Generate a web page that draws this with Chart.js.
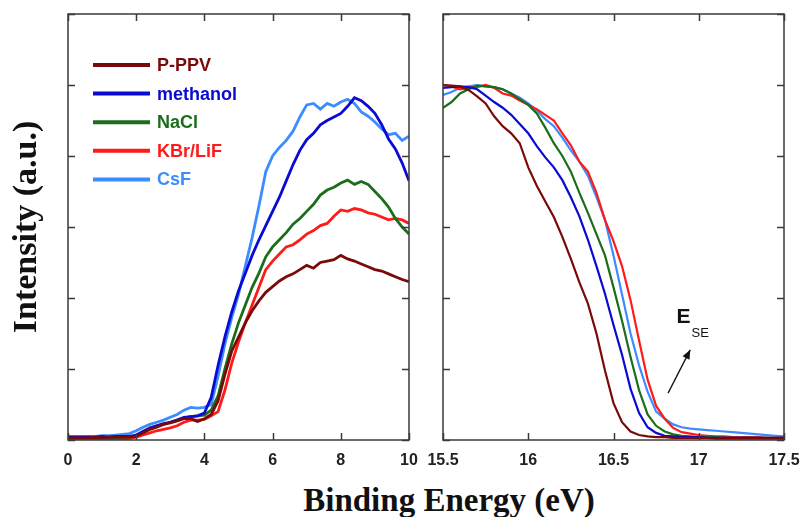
<!DOCTYPE html>
<html>
<head>
<meta charset="utf-8">
<script src="https://cdn.jsdelivr.net/npm/chart.js@4.4.1/dist/chart.umd.min.js"></script>
<style>
  body { margin: 0; background: #fff; width: 805px; height: 517px; position: relative; overflow: hidden; }
  #esquerdo { position: absolute; left: 0; top: 0; }
  #direito { position: absolute; left: 420px; top: 0; }
  #tituloX { position: absolute; left: 249px; width: 400px; top: 482px; text-align: center; line-height: 33px;
    font: bold 33px "Liberation Serif", "Times New Roman", serif; color: #111; white-space: nowrap; }
</style>
</head>
<body>
<canvas id="esquerdo" width="420" height="470"></canvas>
<canvas id="direito" width="385" height="470"></canvas>
<div id="tituloX">Binding Energy (eV)</div>
<script>
// Dados
const nomes = ['P-PPV', 'methanol', 'NaCl', 'KBr/LiF', 'CsF'];
const cores = ['#7a0a0a', '#0a0ad2', '#1a6e1a', '#ff1a1a', '#3a8cff'];

// painel esquerdo: 0 - 10 eV
const energiaEsq = [0, 0.2, 0.4, 0.6, 0.8, 1, 1.2, 1.4, 1.6, 1.8, 2, 2.2, 2.4, 2.6, 2.8, 3, 3.2, 3.4, 3.6, 3.8,
  4, 4.2, 4.4, 4.6, 4.8, 5, 5.2, 5.4, 5.6, 5.8, 6, 6.2, 6.4, 6.6, 6.8, 7, 7.2, 7.4, 7.6, 7.8,
  8, 8.2, 8.4, 8.6, 8.8, 9, 9.2, 9.4, 9.6, 9.8, 10];
const ppvEsq = [0.03, 0.03, 0.03, 0.03, 0.04, 0.03, 0.04, 0.04, 0.04, 0.04, 0.05, 0.1, 0.15, 0.18, 0.22, 0.24, 0.27, 0.3, 0.3, 0.26,
  0.3, 0.36, 0.55, 0.92, 1.25, 1.45, 1.65, 1.82, 1.96, 2.08, 2.16, 2.24, 2.3, 2.34, 2.4, 2.46, 2.42, 2.5, 2.52, 2.54,
  2.6, 2.55, 2.52, 2.48, 2.44, 2.4, 2.38, 2.34, 2.3, 2.26, 2.23];
const metanolEsq = [0.04, 0.04, 0.04, 0.04, 0.04, 0.05, 0.04, 0.05, 0.05, 0.05, 0.07, 0.12, 0.17, 0.2, 0.23, 0.25, 0.28, 0.32, 0.33, 0.34,
  0.38, 0.6, 1.05, 1.45, 1.8, 2.1, 2.35, 2.6, 2.82, 3.02, 3.22, 3.42, 3.65, 3.88, 4.08, 4.23, 4.32, 4.44, 4.5, 4.55,
  4.6, 4.7, 4.82, 4.78, 4.7, 4.6, 4.44, 4.24, 4.1, 3.9, 3.65];
const naclEsq = [0.03, 0.03, 0.03, 0.04, 0.03, 0.03, 0.04, 0.03, 0.04, 0.04, 0.06, 0.12, 0.17, 0.2, 0.22, 0.25, 0.28, 0.31, 0.33, 0.34,
  0.35, 0.42, 0.62, 1.0, 1.35, 1.65, 1.9, 2.15, 2.35, 2.58, 2.72, 2.82, 2.92, 3.04, 3.12, 3.22, 3.32, 3.45, 3.52, 3.56,
  3.62, 3.66, 3.6, 3.64, 3.6, 3.5, 3.4, 3.28, 3.12, 3.0, 2.9];
const kbrEsq = [0.02, 0.02, 0.02, 0.02, 0.02, 0.02, 0.02, 0.02, 0.02, 0.02, 0.04, 0.07, 0.1, 0.13, 0.15, 0.17, 0.2, 0.25, 0.28, 0.28,
  0.29, 0.34, 0.4, 0.7, 1.08, 1.38, 1.65, 1.9, 2.15, 2.4, 2.52, 2.62, 2.72, 2.75, 2.82, 2.9, 2.95, 3.02, 3.05, 3.15,
  3.24, 3.22, 3.26, 3.24, 3.2, 3.18, 3.14, 3.1, 3.12, 3.1, 3.05];
const csfEsq = [0.05, 0.05, 0.05, 0.05, 0.05, 0.06, 0.06, 0.07, 0.08, 0.09, 0.13, 0.18, 0.22, 0.25, 0.28, 0.32, 0.36, 0.42, 0.46, 0.45,
  0.46, 0.5, 0.9, 1.35, 1.72, 2.05, 2.45, 2.85, 3.3, 3.78, 4.0, 4.12, 4.22, 4.35, 4.55, 4.72, 4.74, 4.66, 4.74, 4.7,
  4.76, 4.8, 4.74, 4.62, 4.56, 4.48, 4.38, 4.3, 4.32, 4.22, 4.28];

// painel direito: 15.5 - 17.5 eV
const energiaDir = [15.5, 15.55, 15.6, 15.65, 15.7, 15.75, 15.8, 15.85, 15.9, 15.95,
  16, 16.05, 16.1, 16.15, 16.2, 16.25, 16.3, 16.35, 16.4, 16.45,
  16.5, 16.55, 16.6, 16.65, 16.7, 16.75, 16.8, 16.85, 16.9, 16.95,
  17, 17.05, 17.1, 17.15, 17.2, 17.25, 17.3, 17.35, 17.4, 17.45, 17.5];
const ppvDir = [5.0, 4.99, 4.98, 4.93, 4.84, 4.74, 4.56, 4.42, 4.32, 4.18,
  3.84, 3.58, 3.36, 3.14, 2.86, 2.55, 2.22, 1.92, 1.5, 0.98,
  0.52, 0.25, 0.12, 0.07, 0.05, 0.04, 0.04, 0.03, 0.03, 0.03,
  0.03, 0.03, 0.02, 0.02, 0.02, 0.02, 0.02, 0.02, 0.02, 0.02, 0.02];
const metanolDir = [4.96, 4.97, 4.98, 4.97, 4.94, 4.85, 4.76, 4.68, 4.58, 4.45,
  4.32, 4.14, 3.98, 3.84, 3.66, 3.42, 3.15, 2.82, 2.45, 2.06,
  1.62, 1.2, 0.72, 0.38, 0.18, 0.1, 0.06, 0.05, 0.04, 0.04,
  0.04, 0.03, 0.03, 0.03, 0.03, 0.03, 0.03, 0.03, 0.03, 0.03, 0.03];
const naclDir = [4.68, 4.76, 4.88, 4.94, 4.99, 4.98, 4.97, 4.94, 4.88, 4.8,
  4.72, 4.6, 4.4, 4.18, 4.0, 3.78, 3.48, 3.2, 2.9, 2.6,
  2.15, 1.68, 1.17, 0.7, 0.36, 0.2, 0.12, 0.08, 0.06, 0.05,
  0.04, 0.04, 0.04, 0.03, 0.03, 0.03, 0.03, 0.03, 0.03, 0.03, 0.03];
const kbrDir = [5.0, 4.98, 4.94, 4.96, 4.97, 5.0, 4.96, 4.88, 4.85, 4.78,
  4.72, 4.66, 4.58, 4.5, 4.32, 4.15, 3.92, 3.78, 3.48, 3.1,
  2.8, 2.45, 1.97, 1.4, 0.85, 0.48, 0.3, 0.17, 0.11, 0.09,
  0.07, 0.06, 0.05, 0.05, 0.04, 0.04, 0.04, 0.04, 0.03, 0.03, 0.03];
const csfDir = [4.86, 4.9, 4.96, 4.98, 5.0, 4.98, 4.97, 4.94, 4.88, 4.82,
  4.74, 4.64, 4.52, 4.42, 4.26, 4.08, 3.92, 3.72, 3.42, 3.1,
  2.6, 2.05, 1.5, 1.05, 0.68, 0.4, 0.3, 0.22, 0.18, 0.16,
  0.15, 0.14, 0.13, 0.12, 0.11, 0.1, 0.09, 0.08, 0.07, 0.06, 0.05];

Chart.defaults.font.family = '"Liberation Sans", Arial, sans-serif';

function pontos(xs, ys) {
  return xs.map((x, i) => ({ x: x, y: ys[i] }));
}

function montarSeries(xs, listas, espessura) {
  return listas.map((ys, i) => ({
    label: nomes[i],
    data: pontos(xs, ys),
    borderColor: cores[i],
    backgroundColor: cores[i],
    borderWidth: espessura,
    pointRadius: 0,
    tension: 0,
    fill: false
  }));
}

// moldura com ticks para dentro, nos 4 lados
const moldura = {
  id: 'moldura',
  afterDatasetsDraw(chart) {
    const { ctx, chartArea: a, scales } = chart;
    ctx.save();
    ctx.strokeStyle = '#3a3a3a';
    ctx.lineWidth = 1.5;
    ctx.strokeRect(a.left, a.top, a.right - a.left, a.bottom - a.top);
    ctx.beginPath();
    scales.x.ticks.forEach(t => {
      const p = Math.round(scales.x.getPixelForValue(t.value)) + 0.5;
      ctx.moveTo(p, a.bottom); ctx.lineTo(p, a.bottom - 7);
      ctx.moveTo(p, a.top); ctx.lineTo(p, a.top + 7);
    });
    scales.y.ticks.forEach(t => {
      const p = Math.round(scales.y.getPixelForValue(t.value)) + 0.5;
      ctx.moveTo(a.left, p); ctx.lineTo(a.left + 7, p);
      ctx.moveTo(a.right, p); ctx.lineTo(a.right - 7, p);
    });
    ctx.stroke();
    ctx.restore();
  }
};

// legenda dentro do painel esquerdo
const legendaInterna = {
  id: 'legendaInterna',
  afterDatasetsDraw(chart) {
    const { ctx, chartArea: a } = chart;
    ctx.save();
    ctx.font = 'bold 18px "Liberation Sans", Arial, sans-serif';
    ctx.textBaseline = 'middle';
    chart.data.datasets.forEach((ds, i) => {
      const y = a.top + 51 + i * 28.6;
      ctx.strokeStyle = ds.borderColor;
      ctx.lineWidth = 4;
      ctx.beginPath();
      ctx.moveTo(a.left + 25, y);
      ctx.lineTo(a.left + 82, y);
      ctx.stroke();
      ctx.fillStyle = ds.borderColor;
      ctx.fillText(ds.label, a.left + 89, y + 1);
    });
    ctx.restore();
  }
};

// anotação E_SE com seta
const anotacao = {
  id: 'anotacao',
  afterDatasetsDraw(chart) {
    const { ctx, scales: { x, y } } = chart;
    ctx.save();
    ctx.fillStyle = '#111';
    ctx.font = 'bold 21px "Liberation Sans", Arial, sans-serif';
    ctx.textBaseline = 'alphabetic';
    const ex = x.getPixelForValue(16.87), ey = y.getPixelForValue(1.65);
    ctx.fillText('E', ex, ey);
    ctx.font = '13px "Liberation Sans", Arial, sans-serif';
    ctx.fillText('SE', ex + 15, ey + 14);
    const x0 = x.getPixelForValue(16.82), y0 = y.getPixelForValue(0.66);
    const x1 = x.getPixelForValue(16.95), y1 = y.getPixelForValue(1.27);
    ctx.strokeStyle = '#111';
    ctx.lineWidth = 1.3;
    ctx.beginPath();
    ctx.moveTo(x0, y0);
    ctx.lineTo(x1, y1);
    ctx.stroke();
    const ang = Math.atan2(y1 - y0, x1 - x0);
    ctx.beginPath();
    ctx.moveTo(x1, y1);
    ctx.lineTo(x1 - 10 * Math.cos(ang - 0.4), y1 - 10 * Math.sin(ang - 0.4));
    ctx.lineTo(x1 - 10 * Math.cos(ang + 0.4), y1 - 10 * Math.sin(ang + 0.4));
    ctx.closePath();
    ctx.fill();
    ctx.restore();
  }
};

function opcoes(xmin, xmax, passo, larguraY, padDireita, comTitulo) {
  return {
    responsive: false,
    animation: false,
    layout: { padding: { top: 14, right: padDireita, left: 0, bottom: 0 } },
    plugins: { legend: { display: false }, tooltip: { enabled: false } },
    scales: {
      x: {
        type: 'linear',
        min: xmin,
        max: xmax,
        border: { display: false },
        grid: { display: false, drawTicks: false },
        ticks: {
          stepSize: passo,
          padding: 11,
          color: '#222',
          font: { size: 16, weight: 'bold' },
          maxRotation: 0,
          callback: v => String(v)
        },
        afterFit(s) { s.height = 30; s.paddingLeft = 0; s.paddingRight = 0; }
      },
      y: {
        min: 0,
        max: 6,
        border: { display: false },
        grid: { display: false, drawTicks: false },
        ticks: { stepSize: 1, display: false },
        title: {
          display: comTitulo,
          text: 'Intensity (a.u.)',
          color: '#111',
          font: { family: '"Liberation Serif", "Times New Roman", serif', size: 34, weight: 'bold' },
          padding: { top: 7, bottom: 0 }
        },
        afterFit(s) { s.width = larguraY; s.paddingTop = 0; s.paddingBottom = 0; }
      }
    }
  };
}

function gerarGraficos() {
  new Chart(document.getElementById('esquerdo'), {
    type: 'line',
    data: { datasets: montarSeries(energiaEsq, [ppvEsq, metanolEsq, naclEsq, kbrEsq, csfEsq], 2.8) },
    options: opcoes(0, 10, 2, 68, 11, true),
    plugins: [moldura, legendaInterna]
  });

  new Chart(document.getElementById('direito'), {
    type: 'line',
    data: { datasets: montarSeries(energiaDir, [ppvDir, metanolDir, naclDir, kbrDir, csfDir], 2.2) },
    options: opcoes(15.5, 17.5, 0.5, 23, 21, false),
    plugins: [moldura, anotacao]
  });
}

gerarGraficos();
</script>
</body>
</html>
